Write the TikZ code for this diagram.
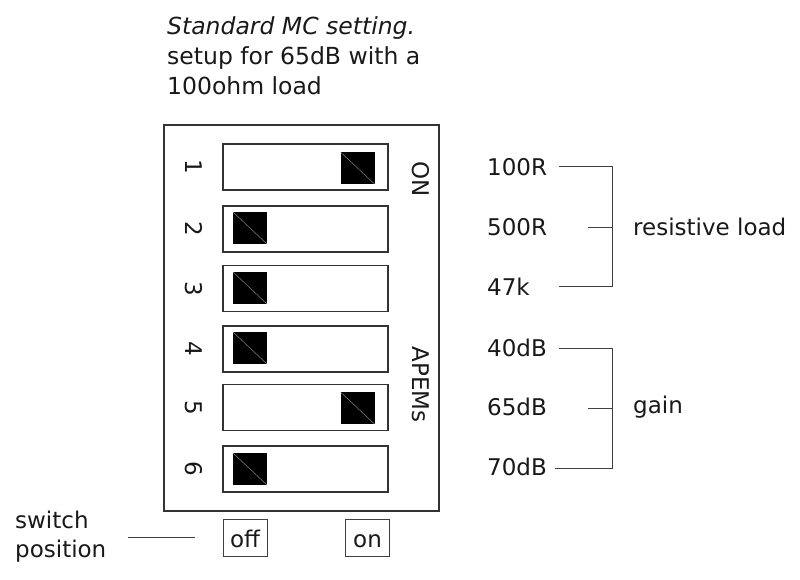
\documentclass[tikz,border=0pt]{standalone}
\usepackage{fontspec}
\setmainfont{DejaVu Sans}
\begin{document}
\begin{tikzpicture}[x=1pt,y=-1pt,
  txt/.style={font=\fontsize{23}{27}\selectfont, text=black!90, inner sep=0pt},
  ttl/.style={font=\fontsize{23.5}{27}\selectfont, text=black!90, inner sep=0pt, anchor=base west},
  lbl/.style={txt, anchor=base west},
  num/.style={txt, rotate=-90},
  swbox/.style={draw=black!80, line width=1.3pt, minimum width=165pt, minimum height=46pt, inner sep=0pt},
  knob/.style={fill=black, minimum width=34pt, minimum height=32pt, inner sep=0pt,
    path picture={\draw[black!50, line width=0.5pt] (path picture bounding box.north west) -- (path picture bounding box.south east);}},
  posbox/.style={draw=black!75, line width=1pt, minimum width=44pt, minimum height=37pt, inner sep=0pt,
    text height=20pt, text depth=0pt, font=\fontsize{23}{27}\selectfont, text=black!90},
  conn/.style={draw=black!75, line width=1pt}
]
\useasboundingbox (0,0) rectangle (800,580);
% title
\node[ttl, font=\fontsize{23.5}{27}\selectfont\itshape] (t1) at (167,35) {Standard MC setting.};
\node[ttl] (t2) at (167,65) {setup for 65dB with a};
\node[ttl] (t3) at (167,95) {100ohm load};
% outer box
\node[draw=black!80, line width=1.3pt, minimum width=275pt, minimum height=386pt, inner sep=0pt] (body) at (301.5,318) {};
% switches
\node[swbox] (s1) at (305.5,167) {};
\node[swbox] (s2) at (305.5,229) {};
\node[swbox] (s3) at (305.5,288.5) {};
\node[swbox] (s4) at (305.5,349) {};
\node[swbox] (s5) at (305.5,407.5) {};
\node[swbox] (s6) at (305.5,469) {};
% knobs
\node[knob] (k1) at (357.5,168) {};
\node[knob] (k2) at (250,228) {};
\node[knob] (k3) at (250,288) {};
\node[knob] (k4) at (250,348) {};
\node[knob] (k5) at (357.5,408) {};
\node[knob] (k6) at (250,469) {};
% numbers
\node[num] (n1) at (194,167) {1};
\node[num] (n2) at (194,229) {2};
\node[num] (n3) at (194,288.5) {3};
\node[num] (n4) at (194,349) {4};
\node[num] (n5) at (194,407.5) {5};
\node[num] (n6) at (194,469) {6};
\node[num] (on) at (421,179) {ON};
\node[num] (apems) at (421,384.5) {APEMs};
% position boxes
\node[posbox] (off) at (245,537.5) {off};
\node[posbox] (onp) at (367.5,537.5) {on};
\node[lbl] (sw1) at (15,528) {switch};
\node[lbl] (sw2) at (15,557) {position};
\coordinate (swa) at (128,537);
\coordinate (swb) at (195,537);
\draw[conn] (swa) -- (swb);
% right labels
\node[lbl] (r100) at (487,176) {100R};
\node[lbl] (r500) at (487,235.5) {500R};
\node[lbl] (r47) at (487,295) {47k};
\node[lbl] (g40) at (487,356) {40dB};
\node[lbl] (g65) at (487,415) {65dB};
\node[lbl] (g70) at (487,475.5) {70dB};
\node[lbl] (rl) at (633,235.5) {resistive load};
\node[lbl] (gain) at (633,413) {gain};
% brackets
\coordinate (ra) at (559,167);
\coordinate (rb) at (612,167);
\coordinate (rc) at (612,286);
\coordinate (rd) at (559,286);
\coordinate (re) at (588,227);
\coordinate (rf) at (612,227);
\draw[conn] (ra) -- (rb) -- (rc) -- (rd);
\draw[conn] (re) -- (rf);
\coordinate (ga) at (559,348);
\coordinate (gb) at (612,348);
\coordinate (gc) at (612,468);
\coordinate (gd) at (555,468);
\coordinate (ge) at (588,408);
\coordinate (gf) at (612,408);
\draw[conn] (ga) -- (gb) -- (gc) -- (gd);
\draw[conn] (ge) -- (gf);
\end{tikzpicture}
\end{document}
